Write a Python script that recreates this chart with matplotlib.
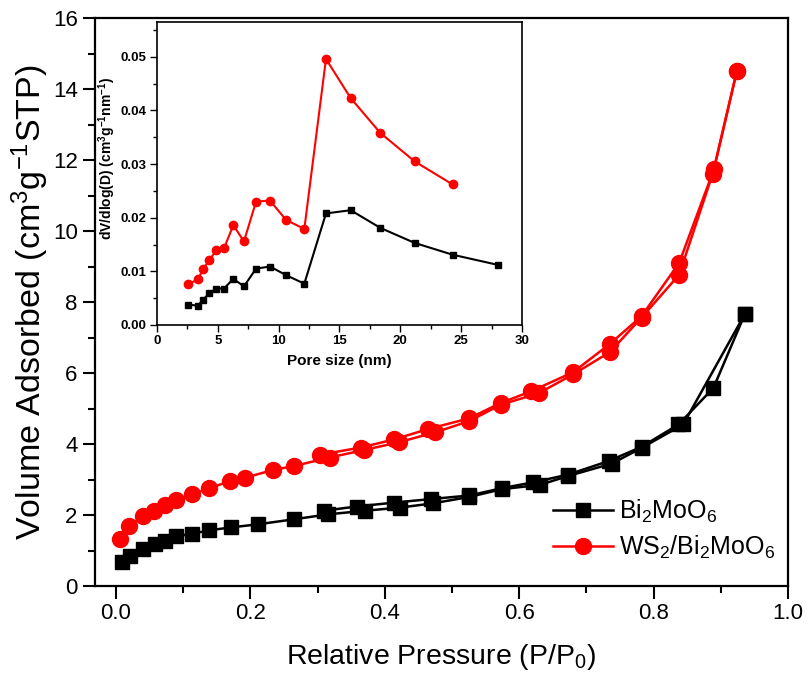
import numpy as np
import matplotlib.pyplot as plt
from matplotlib.ticker import MultipleLocator

plt.rcParams['font.family'] = ['Liberation Sans', 'DejaVu Sans']
plt.rcParams['mathtext.fontset'] = 'custom'
plt.rcParams['mathtext.rm'] = 'Liberation Sans'
plt.rcParams['mathtext.it'] = 'Liberation Sans:italic'
plt.rcParams['mathtext.bf'] = 'Liberation Sans:bold'

# N2 isotherms, Bi2MoO6
bmo_ads_p = [0.009, 0.021, 0.041, 0.058, 0.073, 0.089, 0.113, 0.139, 0.171, 0.212, 0.265, 0.316,
             0.370, 0.423, 0.472, 0.526, 0.575, 0.631, 0.673, 0.738, 0.782, 0.844, 0.936]
bmo_ads_v = [0.69, 0.85, 1.04, 1.19, 1.26, 1.40, 1.47, 1.57, 1.65, 1.74, 1.88, 2.02,
             2.12, 2.21, 2.33, 2.51, 2.73, 2.85, 3.10, 3.45, 3.89, 4.55, 7.67]
bmo_des_p = [0.936, 0.889, 0.837, 0.782, 0.733, 0.673, 0.621, 0.575, 0.526, 0.469, 0.414, 0.358, 0.309]
bmo_des_v = [7.67, 5.58, 4.55, 3.92, 3.52, 3.14, 2.92, 2.76, 2.55, 2.45, 2.35, 2.24, 2.12]

# WS2/Bi2MoO6
ws_ads_p = [0.006, 0.020, 0.041, 0.057, 0.073, 0.089, 0.113, 0.139, 0.170, 0.192, 0.234, 0.265, 0.318,
            0.369, 0.421, 0.475, 0.525, 0.573, 0.629, 0.680, 0.735, 0.782, 0.838, 0.888, 0.924]
ws_ads_v = [1.33, 1.70, 1.98, 2.12, 2.29, 2.42, 2.58, 2.75, 2.96, 3.05, 3.27, 3.38, 3.62,
            3.83, 4.05, 4.33, 4.64, 5.11, 5.43, 5.96, 6.59, 7.56, 8.77, 11.62, 14.52]
ws_des_p = [0.924, 0.890, 0.838, 0.782, 0.735, 0.680, 0.617, 0.573, 0.525, 0.464, 0.414, 0.364, 0.304]
ws_des_v = [14.52, 11.75, 9.10, 7.60, 6.82, 6.02, 5.48, 5.16, 4.72, 4.42, 4.13, 3.90, 3.70]

# pore size distribution (inset)
bmo_pore = [2.55, 3.37, 3.78, 4.30, 4.88, 5.51, 6.27, 7.15, 8.14, 9.29, 10.60, 12.11,
            13.89, 15.92, 18.36, 21.18, 24.30, 28.03]
bmo_dv = [0.0038, 0.0036, 0.0047, 0.0059, 0.0068, 0.0068, 0.0086, 0.0072, 0.0105, 0.0109, 0.0093, 0.0077,
          0.0208, 0.0214, 0.0181, 0.0153, 0.0131, 0.0112]
ws_pore = [2.55, 3.37, 3.78, 4.30, 4.88, 5.51, 6.27, 7.15, 8.14, 9.29, 10.60, 12.11,
           13.89, 15.92, 18.36, 21.18, 24.30]
ws_dv = [0.0076, 0.0085, 0.0104, 0.0121, 0.0139, 0.0143, 0.0186, 0.0156, 0.0230, 0.0232, 0.0196, 0.0179,
         0.0496, 0.0423, 0.0358, 0.0305, 0.0262]

fig = plt.figure(figsize=(8.08, 6.8), dpi=100)
ax = fig.add_axes([0.1176, 0.1382, 0.8577, 0.8353])

ax.plot(bmo_ads_p, bmo_ads_v, 'k-s', lw=1.8, ms=10.5, label='Bi$_2$MoO$_6$')
ax.plot(bmo_des_p, bmo_des_v, 'k-s', lw=1.8, ms=10.5)
ax.plot(ws_ads_p, ws_ads_v, '-o', color='#ff0000', lw=1.8, ms=11.5, label='WS$_2$/Bi$_2$MoO$_6$')
ax.plot(ws_des_p, ws_des_v, '-o', color='#ff0000', lw=1.8, ms=11.5)

ax.set_xlim(-0.031, 1.0)
ax.set_ylim(0, 16)
ax.xaxis.set_major_locator(MultipleLocator(0.2))
ax.xaxis.set_minor_locator(MultipleLocator(0.1))
ax.yaxis.set_major_locator(MultipleLocator(2))
ax.yaxis.set_minor_locator(MultipleLocator(1))
ax.tick_params(which='both', direction='out', width=1.5, labelsize=16)
ax.tick_params(which='major', length=9)
ax.tick_params(which='minor', length=5)
for s in ax.spines.values():
    s.set_linewidth(1.6)
ax.set_xlabel('Relative Pressure (P/P$_0$)', fontsize=20.5, labelpad=13)
ax.set_ylabel('Volume Adsorbed (cm$^3$g$^{-1}$STP)', fontsize=24.5, labelpad=1)
ax.legend(loc='upper left', bbox_to_anchor=(0.661, 0.155), borderpad=0, borderaxespad=0,
          frameon=False, fontsize=18, handlelength=2.4, handletextpad=0.25, labelspacing=0.35)

# inset
ins = fig.add_axes([0.1943, 0.5221, 0.4517, 0.4456])
ins.plot(bmo_pore, bmo_dv, 'k-s', lw=1.5, ms=5)
ins.plot(ws_pore, ws_dv, '-o', color='#ff0000', lw=1.5, ms=6)
ins.set_xlim(0, 30)
ins.set_ylim(0, 0.0565)
ins.xaxis.set_major_locator(MultipleLocator(5))
ins.xaxis.set_minor_locator(MultipleLocator(2.5))
ins.yaxis.set_major_locator(MultipleLocator(0.01))
ins.yaxis.set_minor_locator(MultipleLocator(0.005))
ins.yaxis.set_major_formatter(plt.FormatStrFormatter('%.2f'))
ins.tick_params(which='both', direction='out', width=1.0, labelsize=9.5, pad=2.5)
ins.tick_params(which='major', length=5)
ins.tick_params(which='minor', length=3)
for lab in ins.get_xticklabels() + ins.get_yticklabels():
    lab.set_fontweight('bold')
for s in ins.spines.values():
    s.set_linewidth(1.2)
ins.set_xlabel('Pore size (nm)', fontsize=11, fontweight='bold', labelpad=5)
ins.set_ylabel(r'dV/dlog(D) (cm$\mathbf{^3}$g$\mathbf{^{-1}}$nm$\mathbf{^{-1}}$)', fontsize=10,
               fontweight='bold')
ins.yaxis.set_label_coords(-0.108, 0.55)

fig.savefig('out.png', dpi=100)
